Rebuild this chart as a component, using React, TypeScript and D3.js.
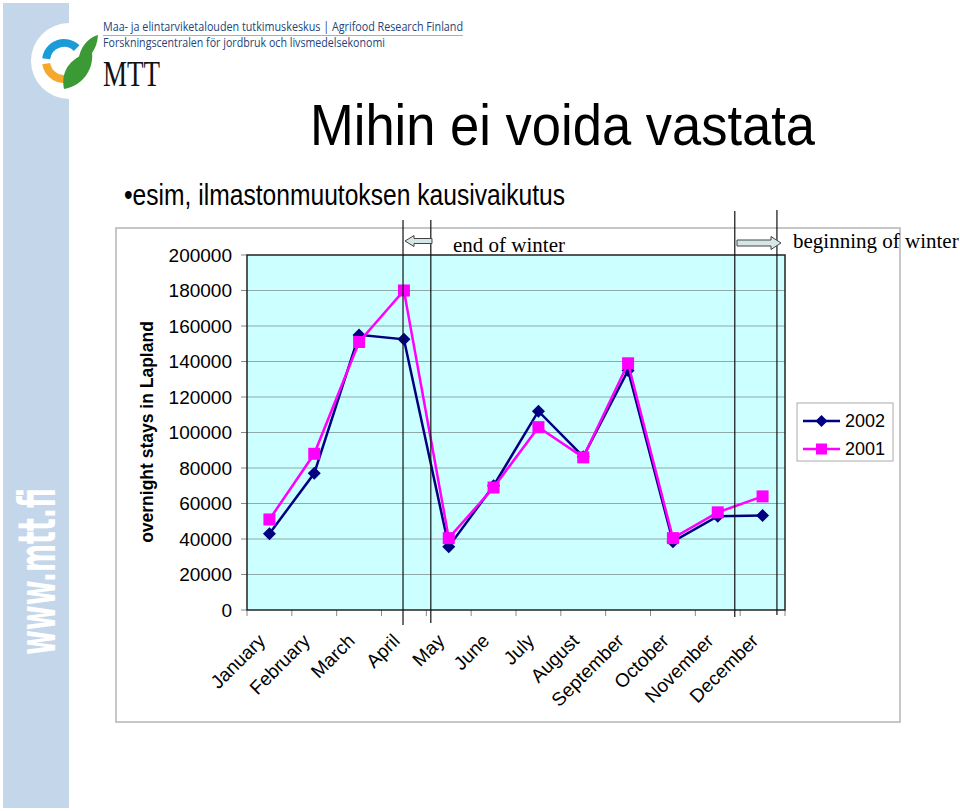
import React from "react";
import * as d3 from "d3";

const months = ["January","February","March","April","May","June","July","August","September","October","November","December"];
const stays2002 = [43000, 77000, 155000, 152500, 35700, 70000, 112000, 86400, 135000, 38500, 52800, 53300];
const stays2001 = [51000, 88000, 151000, 180000, 40500, 69000, 103000, 86000, 139000, 40500, 55000, 64000];
const yTicks = [0, 20000, 40000, 60000, 80000, 100000, 120000, 140000, 160000, 180000, 200000];
const seriesNames = ["2002", "2001"];

const NAVY = "#000080";
const MAGENTA = "#ff00ff";

export default function App() {
  const L = 247, R = 785, T = 255, B = 610;
  const x = d3.scaleBand<string>().domain(months).range([L, R]).paddingInner(0).paddingOuter(0);
  const y = d3.scaleLinear().domain([0, 200000]).range([B, T]);
  const pos = d3.scaleLinear().domain([0, 12]).range([L, R]);
  const cx = (m: string) => (x(m) as number) + x.bandwidth() / 2;

  const line = d3.line<number>().x((_, i) => cx(months[i])).y((v) => y(v));

  const diamond = (px: number, py: number, r: number) =>
    `M${px},${py - r}L${px + r},${py}L${px},${py + r}L${px - r},${py}Z`;

  const blueArc = d3.arc()({ innerRadius: 14, outerRadius: 22, startAngle: -1.45, endAngle: 0.78 } as any) as string;
  const orangeArc = d3.arc()({ innerRadius: 14, outerRadius: 22, startAngle: -3.55, endAngle: -1.72 } as any) as string;

  const vLines = [
    { p: 3.48, top: 220, bottom: 625 },
    { p: 4.1, top: 220, bottom: 623 },
    { p: 10.88, top: 211, bottom: 617 },
    { p: 11.82, top: 210, bottom: 615 },
  ];

  const arrowLeft = (x0: number, x1: number, yc: number, bh: number, hh: number, hl: number) =>
    `M${x0},${yc}L${x0 + hl},${yc - hh / 2}L${x0 + hl},${yc - bh / 2}L${x1},${yc - bh / 2}L${x1},${yc + bh / 2}L${x0 + hl},${yc + bh / 2}L${x0 + hl},${yc + hh / 2}Z`;
  const arrowRight = (x0: number, x1: number, yc: number, bh: number, hh: number, hl: number) =>
    `M${x1},${yc}L${x1 - hl},${yc - hh / 2}L${x1 - hl},${yc - bh / 2}L${x0},${yc - bh / 2}L${x0},${yc + bh / 2}L${x1 - hl},${yc + bh / 2}L${x1 - hl},${yc + hh / 2}Z`;

  return (
    <svg width={960} height={811} style={{ position: "absolute", left: 0, top: 0, background: "#fff" }}
      fontFamily="'Liberation Sans', Arial, sans-serif">
      {/* sidebar */}
      <rect x={3} y={3} width={66} height={805} fill="#c4d6ea" />
      <circle cx={69} cy={61} r={38} fill="#fff" />
      <text transform="translate(55,655) rotate(-90)" fill="#fff" fontWeight="bold" fontSize={52}
        textLength={167} lengthAdjust="spacingAndGlyphs" fontFamily="'DejaVu Sans', sans-serif">www.mtt.fi</text>

      {/* logo */}
      <g transform="translate(64,61)">
        <path d={blueArc} fill="#1b9bd7" />
        <path d={orangeArc} fill="#f6a82a" />
      </g>
      <path d="M64,89 C60,70 72,56 92,52 C94,70 82,86 64,89 Z" fill="#3b9a36" />
      <path d="M78,62 C80,46 88,38 98,35 C97,50 90,58 78,62 Z" fill="#3b9a36" />
      <text x={103} y={31} fontSize={12} fill="#234379" fontFamily="'Open Sans', sans-serif"
        textLength={360} lengthAdjust="spacingAndGlyphs">Maa- ja elintarviketalouden tutkimuskeskus | Agrifood Research Finland</text>
      <line x1={103} x2={463} y1={35.5} y2={35.5} stroke="#9fb0c8" strokeWidth={1} />
      <text x={103} y={47} fontSize={12} fill="#234379" fontFamily="'Open Sans', sans-serif"
        textLength={282} lengthAdjust="spacingAndGlyphs">Forskningscentralen för jordbruk och livsmedelsekonomi</text>
      <text x={103} y={86} fontSize={36} fill="#111" fontFamily="'Liberation Serif', serif"
        textLength={57} lengthAdjust="spacingAndGlyphs">MTT</text>

      {/* title */}
      <text x={310} y={145} fontSize={58} fill="#000" textLength={505} lengthAdjust="spacingAndGlyphs">Mihin ei voida vastata</text>
      <text x={124} y={205} fontSize={29} fill="#000" textLength={441} lengthAdjust="spacingAndGlyphs">•esim, ilmastonmuutoksen kausivaikutus</text>

      {/* chart frame */}
      <rect x={116} y={228} width={784} height={494} fill="none" stroke="#b4b4b4" strokeWidth={1.5} />

      {/* plot area */}
      <rect x={L} y={T} width={R - L} height={B - T} fill="#ccffff" />
      {yTicks.map((t) => (
        <g key={t}>
          {t > 0 && t < 200000 && <line x1={L} x2={R} y1={y(t)} y2={y(t)} stroke="#8fa8a8" strokeWidth={1} />}
          <line x1={L - 6} x2={L} y1={y(t)} y2={y(t)} stroke="#888" strokeWidth={1} />
          <text x={232} y={y(t)} fontSize={19} textAnchor="end" dominantBaseline="central" fill="#000">{t}</text>
        </g>
      ))}
      {d3.range(13).map((i) => (
        <line key={i} x1={pos(i)} x2={pos(i)} y1={B} y2={B + 6} stroke="#888" strokeWidth={1} />
      ))}
      <rect x={L} y={T} width={R - L} height={B - T} fill="none" stroke="#222" strokeWidth={1.5} />

      {/* y-axis title */}
      <text transform="translate(147,432) rotate(-90)" fontSize={17.5} fontWeight="bold" textAnchor="middle"
        dominantBaseline="central">overnight stays in Lapland</text>

      {/* month labels */}
      {months.map((m) => (
        <text key={m} transform={`translate(${cx(m) - 3},${B + 32}) rotate(-45)`} fontSize={19} textAnchor="end">{m}</text>
      ))}

      {/* series */}
      <path d={line(stays2002) as string} fill="none" stroke={NAVY} strokeWidth={2.5} />
      {stays2002.map((v, i) => (
        <path key={i} d={diamond(cx(months[i]), y(v), 6.5)} fill={NAVY} />
      ))}
      <path d={line(stays2001) as string} fill="none" stroke={MAGENTA} strokeWidth={2.5} />
      {stays2001.map((v, i) => (
        <rect key={i} x={cx(months[i]) - 6} y={y(v) - 6} width={12} height={12} fill={MAGENTA} />
      ))}

      {/* annotation lines */}
      {vLines.map((l, i) => (
        <line key={i} x1={pos(l.p)} x2={pos(l.p)} y1={l.top} y2={l.bottom} stroke="#111" strokeWidth={1.2} />
      ))}
      <path d={arrowLeft(405, 432, 241, 5, 11, 9)} fill="#d5e6e6" stroke="#444" strokeWidth={1} />
      <path d={arrowRight(737, 781, 243, 6, 13, 10)} fill="#d5e6e6" stroke="#444" strokeWidth={1} />
      <text x={453} y={252} fontSize={21} fontFamily="'Liberation Serif', serif">end of winter</text>
      <text x={793} y={248} fontSize={21} fontFamily="'Liberation Serif', serif">beginning of winter</text>

      {/* legend */}
      <rect x={797} y={403} width={96} height={58} fill="#fff" stroke="#aaa" strokeWidth={1} />
      {seriesNames.map((s, i) => {
        const ly = 421 + i * 28;
        return (
          <g key={s}>
            <line x1={803} x2={840} y1={ly} y2={ly} stroke={i === 0 ? NAVY : MAGENTA} strokeWidth={2.5} />
            {i === 0
              ? <path d={diamond(821.5, ly, 6)} fill={NAVY} />
              : <rect x={816} y={ly - 5.5} width={11} height={11} fill={MAGENTA} />}
            <text x={845} y={ly} fontSize={18} dominantBaseline="central">{s}</text>
          </g>
        );
      })}
    </svg>
  );
}
